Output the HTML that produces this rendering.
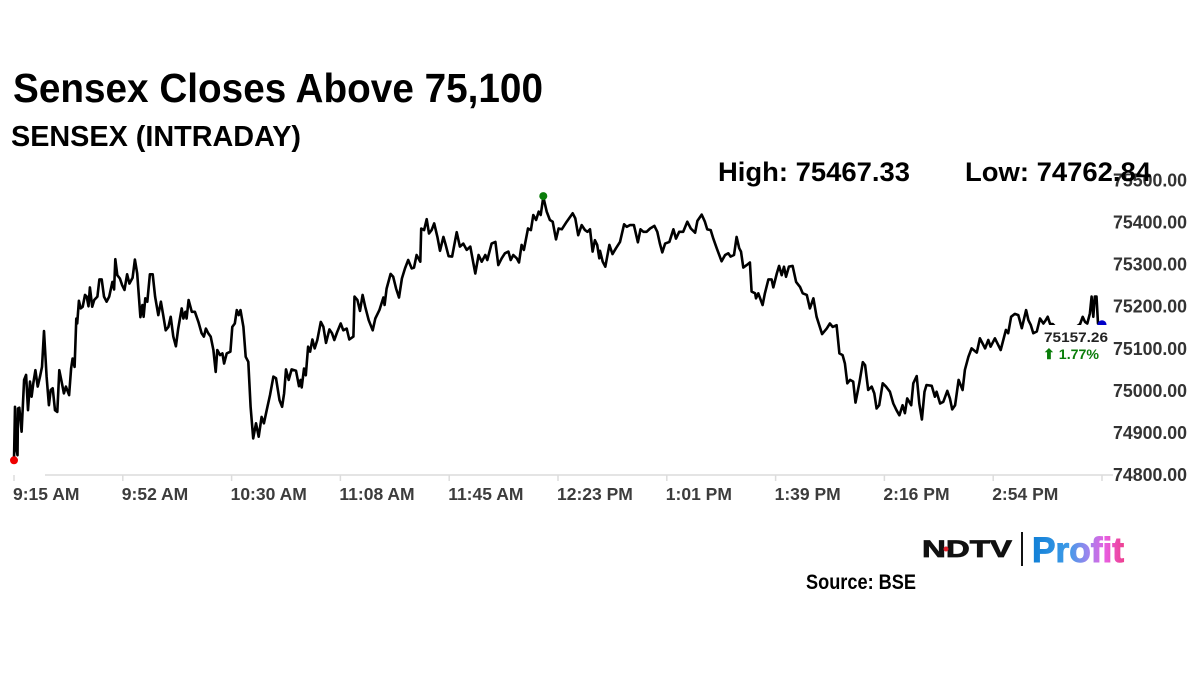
<!DOCTYPE html>
<html lang="en">
<head>
<meta charset="utf-8">
<title>Sensex Closes Above 75,100</title>
<style>
html,body{margin:0;padding:0;background:#fff;}
svg{display:block;font-family:"Liberation Sans",Arial,sans-serif;}
.head{font-weight:bold;fill:#000;}
</style>
</head>
<body>
<svg id="chart" xmlns="http://www.w3.org/2000/svg" width="1200" height="675" viewBox="0 0 1200 675">
  <defs>
    <linearGradient id="profitGrad" x1="1032" x2="1124" y1="0" y2="0" gradientUnits="userSpaceOnUse">
      <stop offset="0" stop-color="#0f7fd6"/>
      <stop offset="0.4" stop-color="#3f9be8"/>
      <stop offset="0.6" stop-color="#9a86ee"/>
      <stop offset="0.8" stop-color="#e85ee0"/>
      <stop offset="1" stop-color="#ee3f8f"/>
    </linearGradient>
  </defs>
  <rect x="0" y="0" width="1200" height="675" fill="#fff"/>
  <text class="head" x="13" y="102" font-size="41" textLength="530" lengthAdjust="spacingAndGlyphs">Sensex Closes Above 75,100</text>
  <text class="head" x="11" y="146" font-size="29" textLength="290" lengthAdjust="spacingAndGlyphs">SENSEX (INTRADAY)</text>
  <g id="axes"></g>
  <g id="plot"></g>
  <text class="head" x="718" y="181" font-size="27" textLength="192" lengthAdjust="spacingAndGlyphs">High: 75467.33</text>
  <text class="head" x="965" y="181" font-size="27" textLength="186" lengthAdjust="spacingAndGlyphs">Low: 74762.84</text>
  <g>
    <text x="922" y="557" font-size="24" font-weight="bold" fill="#111" stroke="#111" stroke-width="0.8" textLength="90" lengthAdjust="spacingAndGlyphs">NDTV</text>
    <circle cx="946" cy="549" r="2.5" fill="#e0202a"/>
    <rect x="1021" y="532" width="2" height="34" fill="#111"/>
    <text x="1032" y="562" font-size="35" font-weight="bold" fill="url(#profitGrad)" stroke="url(#profitGrad)" stroke-width="1" textLength="92" lengthAdjust="spacingAndGlyphs">Profit</text>
  </g>
  <text class="head" x="806" y="589" font-size="21" textLength="110" lengthAdjust="spacingAndGlyphs">Source: BSE</text>
</svg>
<script>
const tickMinutes = [0, 37.7, 75.4, 113.1, 150.8, 188.5, 226.2, 263.9, 301.6, 339.3, 377];
const timeLabels = ["9:15 AM", "9:52 AM", "10:30 AM", "11:08 AM", "11:45 AM", "12:23 PM", "1:01 PM", "1:39 PM", "2:16 PM", "2:54 PM", ""];
const priceTicks = [74800, 74900, 75000, 75100, 75200, 75300, 75400, 75500];
const minutes = [
0,0.35,0.7,1.2,1.4,1.85,2.65,3.5,4.2,4.85,5.55,6.1,6.7,7.4,8.2,9,9.7,10.4,11.3,12.1,12.7,13.4,14.2,15,15.7,16.5,17.3,18,19.1,19.8,20.3,21,21.6,21.9,22.5,23.1,23.8,24.6,25.2,25.8,26.3,27.1,27.8,28.9,29.6,30.4,31.2,32.1,33,34.1,34.7,35.1,35.8,36.7,37.5,38.3,39.2,40,41.1,41.9,42.7,43.8,44.5,44.9,45.5,46.2,47.1,48.05,48.9,50,50.9,51.7,52.55,53.5,54.3,55.2,56.1,56.9,58.1,58.7,59.4,59.8,60.5,61.6,62.7,63.9,65,65.8,66.5,67.3,68.15,69.1,69.9,70.45,71.4,72.2,72.8,73.7,75,75.65,76.5,77.2,77.85,78.5,79.5,80.3,81.2,82,82.9,83.85,84.8,85.8,86.6,87.55,88.7,89.9,90.8,92,92.9,93.6,94.25,95.2,96.2,97.7,98.75,
99.3,99.7,100.5,101.1,101.9,102.6,103.4,104.2,105.1,106.3,107.2,108.1,109.3,110.2,111,112,113.2,114.1,115.3,116.2,117.6,118,119,119.9,120.8,121.7,122.9,124.3,125.2,126.6,128,128.4,129.1,130.5,131.4,132.4,133.4,134.4,135.5,136.6,137.8,138.6,139.5,140.8,141.1,142.1,143,143.8,144.7,145.6,146.7,147.6,148.8,149.6,150.6,151.8,153.4,154.5,155.7,156.85,158.1,159.2,159.85,161,162.05,163.3,164,165.5,166.8,167.8,169,170.1,171.3,172.1,173,174.2,175,175.9,176.7,178.1,179.1,179.95,180.9,181.8,182.5,183.4,184.6,185.7,186.65,187.8,188.7,189.8,191.5,193.6,194.5,195.5,196.7,197.85,198.7,199.6,200.5,201.3,202.1,202.8,
203.05,204,204.9,206.3,207.4,208.6,210,211.4,212.3,213.4,214.8,216.2,217.1,218.1,219.2,220.4,221.9,222.9,223.8,224.65,225.6,227.1,228.5,229.4,230.5,231.9,233.3,234.5,236,236.8,238.3,239.4,240.2,241.4,242.3,243.5,245.2,246.4,247.5,248.3,249.5,250.4,251.3,251.9,252.7,253.9,255,255.6,256.8,257.1,257.9,259.4,260.2,261.4,262.5,263.1,264.3,265.1,266,266.8,267.5,268.5,269.8,271,272.35,273.3,274.7,275.8,277,278.1,280,281.6,282.7,283.7,285.05,286,287.1,287.9,288.75,289.7,290.8,291.6,292.9,294.1,294.9,296,297.2,298.1,298.9,299.8,301,302.15,303.5,304.7,305.8,306.8,
307.9,308.7,309.5,310.9,311.6,312.8,313.7,314.6,315.5,316.2,318,319.1,319.7,320.9,322,323.4,324.3,325.1,326.1,327.3,328.7,329.5,330.7,331.8,333.6,334.7,336.5,337.6,338.4,339.9,341.9,343.7,344.5,345.5,346.8,348,349.2,350.7,351.5,352.3,353.2,354.4,355.5,356.7,357.5,358.2,359,359.9,361.3,363.6,365.9,368.2,369.4,370.3,371.1,371.9,372.8,373.4,374,374.5,375.1,375.6,377
];
const prices = [
74835,74962,74867,74847,74958,74960,74903,75026,75038,74954,75022,74986,75018,75049,75010,75034,75057,75142,75034,74966,75002,75006,74954,74950,75049,75022,74994,75010,74990,75053,75077,75057,75172,75160,75214,75196,75200,75228,75224,75201,75246,75200,75216,75224,75265,75265,75224,75212,75224,75259,75241,75313,75275,75267,75251,75240,75277,75255,75269,75312,75279,75175,75204,75176,75220,75212,75277,75277,75224,75180,75212,75180,75144,75152,75176,75129,75106,75148,75196,75172,75188,75172,75216,75188,75188,75164,75137,75129,75148,75137,75129,75097,75045,75097,75085,75089,75065,75089,75093,75152,75160,75192,75180,75192,75152,75081,75069,74962,74887,74923,74891,74938,74923,74954,74990,75034,75030,74978,74962,74994,75051,75026,75051,75048,75011,
75026,75008,75053,75037,75105,75093,75122,75101,75121,75164,75152,75114,75146,75137,75121,75140,75160,75144,75148,75122,75129,75224,75216,75190,75228,75200,75168,75144,75172,75192,75222,75204,75243,75278,75271,75243,75222,75267,75291,75311,75291,75293,75323,75307,75386,75382,75408,75374,75382,75398,75366,75333,75366,75347,75320,75319,75377,75343,75350,75335,75343,75303,75279,75323,75307,75323,75311,75350,75354,75299,75315,75327,75331,75311,75323,75315,75305,75347,75335,75386,75382,75418,75406,75426,75418,75461,75426,75406,75402,75360,75386,75384,75402,75422,75410,75370,75394,75382,75378,75384,75331,75358,75347,75315,
75333,75307,75295,75347,75325,75339,75354,75396,75390,75394,75394,75353,75384,75378,75378,75386,75392,75378,75350,75329,75350,75354,75384,75362,75378,75378,75402,75386,75376,75404,75419,75402,75384,75382,75362,75339,75308,75323,75327,75319,75323,75366,75339,75331,75293,75299,75305,75236,75232,75220,75232,75204,75232,75265,75265,75246,75279,75297,75275,75295,75271,75295,75297,75259,75247,75232,75228,75196,75220,75176,75135,75148,75160,75152,75156,75089,75085,75065,75018,75026,75022,74972,75018,75068,75061,75002,75010,74994,74958,74966,75018,75010,74998,74970,74954,74942,
74966,74947,74982,74966,75018,75035,74970,74932,74998,75014,75012,74986,74998,74970,74974,75000,74982,74956,74966,75026,75002,75050,75081,75101,75091,75125,75101,75121,75105,75125,75097,75145,75137,75176,75183,75180,75149,75192,75168,75157,75137,75141,75172,75160,75168,75176,75159,75159,75149,75153,75149,75153,75159,75176,75164,75160,75184,75224,75176,75224,75224,75160,75157
];
const openPoint = [0, 74835];
const highPoint = [183.4, 75463];
const closePoint = [377, 75157.26];
const closeLabel = "75157.26";
const changeLabel = "\u2B06 1.77%";

const SVGNS = "http://www.w3.org/2000/svg";
const X0 = 14, X1 = 1102, Y0 = 475, Y1 = 180.5;
function xScale(m) { return X0 + (m / 377) * (X1 - X0); }
function yScale(p) { return Y0 - ((p - 74800) / 700) * (Y0 - Y1); }
function make(tag, attrs, parent) {
  const el = document.createElementNS(SVGNS, tag);
  for (const k in attrs) el.setAttribute(k, attrs[k]);
  parent.appendChild(el);
  return el;
}
const axes = document.getElementById("axes");
const plot = document.getElementById("plot");

const axisLine = make("line", { x1: 45, x2: 1113, y1: Y0, y2: Y0, stroke: "#dcdcdc", "stroke-width": 1.5 }, axes);



tickMinutes.forEach(function (m, i) {
  const tick = make("line", { x1: xScale(m), x2: xScale(m), y1: Y0, y2: Y0 + 6, stroke: "#dcdcdc", "stroke-width": 1.5 }, axes);
  
  
  if (timeLabels[i]) {
    const label = make("text", { x: xScale(m) - 1, y: 500, "font-size": 17.5, "font-weight": "bold", fill: "#3c3c3c" }, axes);
    
    
    label.textContent = timeLabels[i];
  }
});

priceTicks.forEach(function (p) {
  const label = make("text", { x: 1113, y: yScale(p) + 6, "font-size": 18, "font-weight": "bold", fill: "#333", textLength: 74, lengthAdjust: "spacingAndGlyphs" }, axes);
  
  
  label.textContent = p.toFixed(2);
});

const pts = minutes.map(function (m, i) { return xScale(m).toFixed(1) + "," + yScale(prices[i]).toFixed(1); }).join(" ");
const line = make("polyline", { points: pts, fill: "none", stroke: "#000", "stroke-width": 2.6, "stroke-linejoin": "round" }, plot);



const openDot = make("circle", { cx: xScale(openPoint[0]), cy: yScale(openPoint[1]), r: 4, fill: "#ee0000" }, plot);



const highDot = make("circle", { cx: xScale(highPoint[0]), cy: yScale(highPoint[1]), r: 4, fill: "#0a7d0a" }, plot);



const closeDot = make("circle", { cx: xScale(closePoint[0]), cy: yScale(closePoint[1]), r: 4.5, fill: "#0000c8" }, plot);



const labelBox = make("rect", { x: 1043, y: 325, width: 66, height: 38, fill: "#fff" }, plot);



const closeText = make("text", { x: 1044, y: 342, "font-size": 14, "font-weight": "bold", fill: "#222", textLength: 64, lengthAdjust: "spacingAndGlyphs" }, plot);


closeText.textContent = closeLabel;

const changeText = make("text", { x: 1043, y: 359, "font-size": 14, "font-weight": "bold", fill: "#0a7d0a", textLength: 56, lengthAdjust: "spacingAndGlyphs" }, plot);


changeText.textContent = changeLabel;
</script>
</body>
</html>
